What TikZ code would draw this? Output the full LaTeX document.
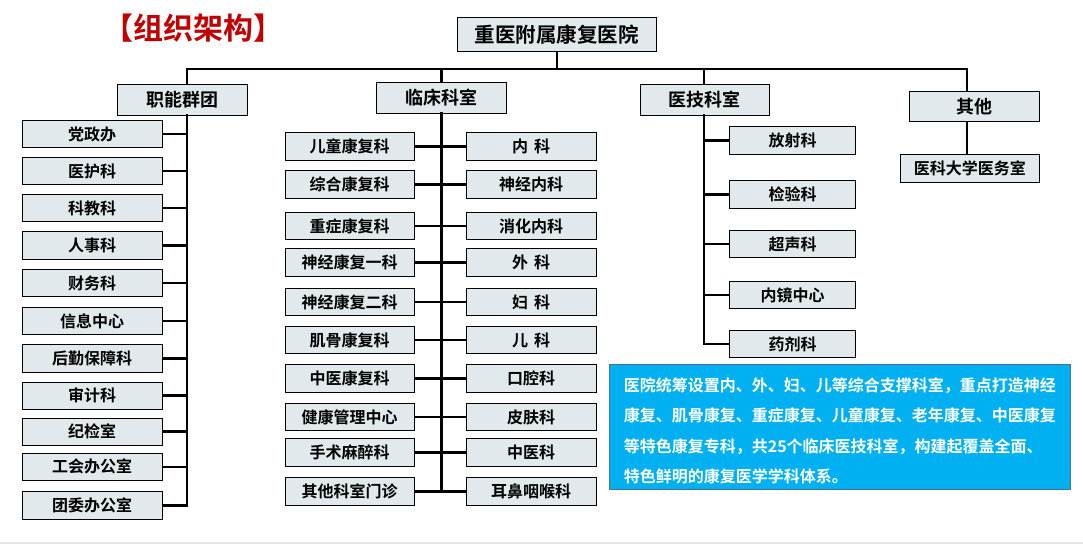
\documentclass[tikz,border=0pt]{standalone}
\usepackage{fontspec}
\setmainfont{Noto Sans CJK SC}[BoldFont={Noto Sans CJK SC Bold}]
\usepackage{tikz}
\definecolor{boxfill}{RGB}{225,233,236}
\definecolor{titlered}{RGB}{192,0,0}
\definecolor{notefill}{RGB}{0,176,240}
\definecolor{noteline}{RGB}{65,113,156}
\definecolor{stripgray}{RGB}{230,230,230}

\begin{document}
\begin{tikzpicture}[x=1pt,y=-1pt,
  box/.style={draw,line width=0.8pt,fill=boxfill,inner sep=0pt,
    font=\bfseries\fontsize{16pt}{18pt}\selectfont},
  group/.style={box,minimum width=129.5pt,minimum height=31pt,
    font=\bfseries\fontsize{18pt}{20pt}\selectfont},
  lbox/.style={box,minimum width=140pt,minimum height=27.5pt},
  mlbox/.style={box,minimum width=129pt,minimum height=27.5pt},
  mrbox/.style={box,minimum width=130pt,minimum height=27.5pt},
  rbox/.style={box,minimum width=126pt,minimum height=27.5pt},
  link/.style={line width=2.6pt},
  spine/.style={line width=2.6pt,line cap=rect}]
\useasboundingbox (0,0) rectangle (1083,544);
\fill[stripgray] (0,541.5) rectangle (1083,544);

% nodes
\node[font=\bfseries\fontsize{30pt}{32pt}\selectfont,text=titlered,inner sep=0pt] (title) at (193.4,28.3) {【组织架构】};
\node[box,minimum width=199pt,minimum height=34.4pt,font=\bfseries\fontsize{20.5pt}{22pt}\selectfont] (top) at (556.9,34.5) {重医附属康复医院};

\node[group] (zn) at (182.5,99.8) {职能群团};
\node[group] (lc) at (441.3,97.8) {临床科室};
\node[group] (yj) at (704.8,99.8) {医技科室};
\node[group,minimum height=30pt] (qt) at (974.4,106.3) {其他};

\coordinate (bus1) at (187,69);
\coordinate (bus3) at (704,69);
\coordinate (bus4) at (967,69);

\node[lbox] (z1) at (92,134) {党政办};
\node[lbox] (z2) at (92,171) {医护科};
\node[lbox] (z3) at (92,208) {科教科};
\node[lbox] (z4) at (92,245.5) {人事科};
\node[lbox] (z5) at (92,283) {财务科};
\node[lbox] (z6) at (92,321) {信息中心};
\node[lbox] (z7) at (92,358.5) {后勤保障科};
\node[lbox] (z8) at (92,395.7) {审计科};
\node[lbox] (z9) at (92,431.7) {纪检室};
\node[lbox] (z10) at (92,466.8) {工会办公室};
\node[lbox] (z11) at (92,505.5) {团委办公室};

\node[mlbox] (a1) at (349.5,146.5) {儿童康复科};
\node[mlbox] (a2) at (349.5,184.5) {综合康复科};
\node[mlbox] (a3) at (349.5,226) {重症康复科};
\node[mlbox] (a4) at (349.5,262.5) {神经康复一科};
\node[mlbox] (a5) at (349.5,302) {神经康复二科};
\node[mlbox] (a6) at (349.5,340) {肌骨康复科};
\node[mlbox] (a7) at (349.5,378.5) {中医康复科};
\node[mlbox] (a8) at (349.5,417) {健康管理中心};
\node[mlbox] (a9) at (349.5,452.5) {手术麻醉科};
\node[mlbox] (a10) at (349.5,491.5) {其他科室门诊};

\node[mrbox] (b1) at (531,146.5) {内\hspace{6pt}科};
\node[mrbox] (b2) at (531,184.5) {神经内科};
\node[mrbox] (b3) at (531,226) {消化内科};
\node[mrbox] (b4) at (531,262.5) {外\hspace{6pt}科};
\node[mrbox] (b5) at (531,302) {妇\hspace{6pt}科};
\node[mrbox] (b6) at (531,340) {儿\hspace{6pt}科};
\node[mrbox] (b7) at (531,378.5) {口腔科};
\node[mrbox] (b8) at (531,417) {皮肤科};
\node[mrbox] (b9) at (531,452.5) {中医科};
\node[mrbox] (b10) at (531,491.5) {耳鼻咽喉科};

\node[rbox] (y1) at (792.5,140.5) {放射科};
\node[rbox] (y2) at (792.5,194.5) {检验科};
\node[rbox] (y3) at (792.5,244) {超声科};
\node[rbox] (y4) at (792.5,295) {内镜中心};
\node[rbox] (y5) at (792.5,344) {药剂科};

\node[box,minimum width=139pt,minimum height=28pt] (q1) at (969.8,168.3) {医科大学医务室};

\node[draw=noteline,line width=0.8pt,fill=notefill,text=white,minimum width=461.7pt,
  minimum height=125pt,inner sep=0pt,align=left,
  font=\bfseries\fontsize{16pt}{30.3pt}\selectfont] (note) at (839.85,426.8)
  {\rule{0pt}{22pt}医院统筹设置内、外、妇、儿等综合支撑科室，重点打造神经\\
   康复、肌骨康复、重症康复、儿童康复、老年康复、中医康复\\
   等特色康复专科，共25个临床医技科室，构建起覆盖全面、\\
   特色鲜明的康复医学学科体系。};

% lines
\draw[spine,line width=2pt] (bus1) -- (bus4);
\draw[link] (top.south) -- (top.south |- bus1);
\draw[link] (bus1) -- (bus1 |- zn.north);
\draw[link] (lc.north |- bus1) -- (lc.north);
\draw[link] (bus3) -- (bus3 |- yj.north);
\draw[link] (bus4) -- (bus4 |- qt.north);

\draw[spine] (bus1 |- zn.south) -- (bus1 |- z11.east);
\draw[link] (z1.east) -- (z1.east -| bus1);
\draw[link] (z2.east) -- (z2.east -| bus1);
\draw[link] (z3.east) -- (z3.east -| bus1);
\draw[link] (z4.east) -- (z4.east -| bus1);
\draw[link] (z5.east) -- (z5.east -| bus1);
\draw[link] (z6.east) -- (z6.east -| bus1);
\draw[link] (z7.east) -- (z7.east -| bus1);
\draw[link] (z8.east) -- (z8.east -| bus1);
\draw[link] (z9.east) -- (z9.east -| bus1);
\draw[link] (z10.east) -- (z10.east -| bus1);
\draw[link] (z11.east) -- (z11.east -| bus1);

\draw[spine] (lc.south) -- (lc.south |- a10.east);
\draw[link] (a1.east) -- (b1.west);
\draw[link] (a2.east) -- (b2.west);
\draw[link] (a3.east) -- (b3.west);
\draw[link] (a4.east) -- (b4.west);
\draw[link] (a5.east) -- (b5.west);
\draw[link] (a6.east) -- (b6.west);
\draw[link] (a7.east) -- (b7.west);
\draw[link] (a8.east) -- (b8.west);
\draw[link] (a9.east) -- (b9.west);
\draw[link] (a10.east) -- (b10.west);

\draw[spine] (bus3 |- yj.south) -- (bus3 |- y5.west);
\draw[link] (y1.west) -- (y1.west -| bus3);
\draw[link] (y2.west) -- (y2.west -| bus3);
\draw[link] (y3.west) -- (y3.west -| bus3);
\draw[link] (y4.west) -- (y4.west -| bus3);
\draw[link] (y5.west) -- (y5.west -| bus3);

\draw[link] (bus4 |- qt.south) -- (bus4 |- q1.north);
\end{tikzpicture}
\end{document}
